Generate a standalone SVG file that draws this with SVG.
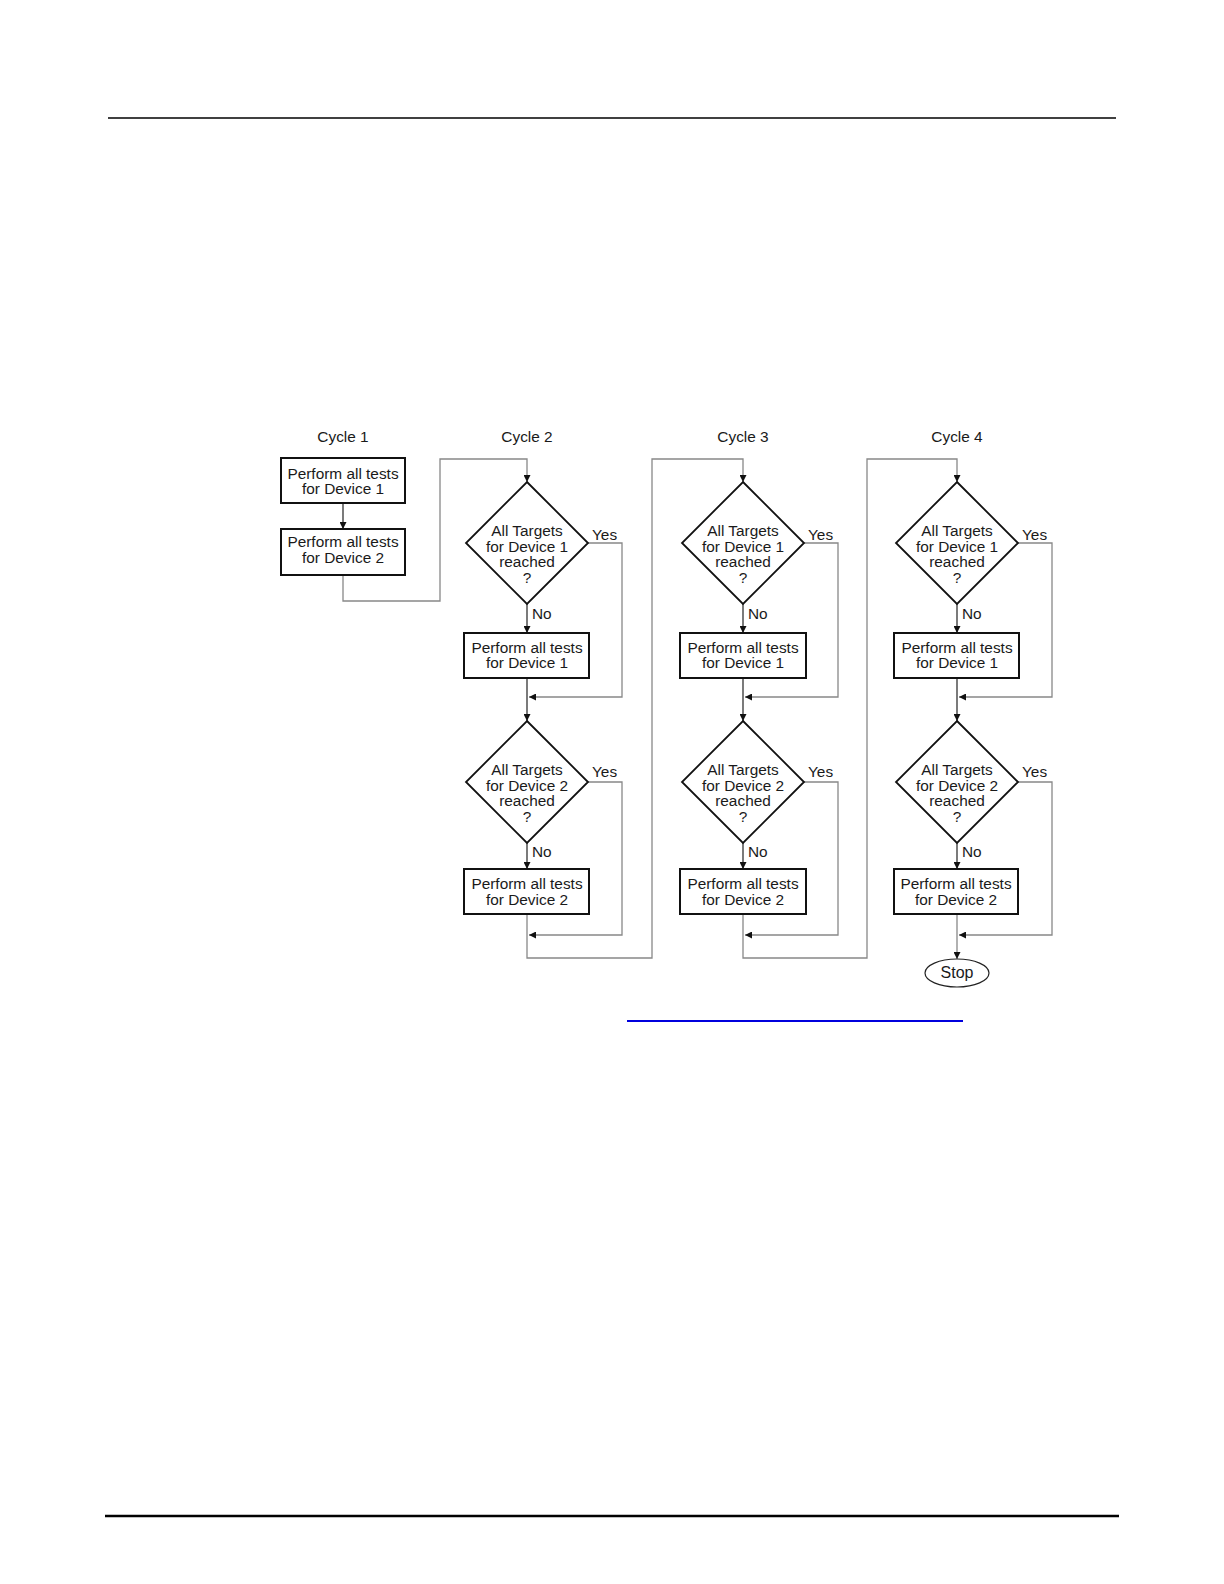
<svg xmlns="http://www.w3.org/2000/svg" width="1224" height="1584" viewBox="0 0 1224 1584">
<style>
text{font-family:"Liberation Sans",Arial,Helvetica,sans-serif;font-size:15.4px;fill:#1a1a1a}
.c{text-anchor:middle}
.box{fill:#fff;stroke:#111;stroke-width:2}
.dia{fill:#fff;stroke:#111;stroke-width:1.8}
.main{fill:none;stroke:#333;stroke-width:1.3}
.loop{fill:none;stroke:#888;stroke-width:1.3}
.ah{fill:#111}
</style>
<defs>
<marker id="arr" viewBox="0 0 10 10" refX="10" refY="5" markerWidth="8" markerHeight="7" markerUnits="userSpaceOnUse" orient="auto">
<path d="M0,0 L10,5 L0,10 z" class="ah"/>
</marker>
</defs>
<rect width="1224" height="1584" fill="#fff"/>
<line x1="108" y1="118" x2="1116" y2="118" stroke="#000" stroke-width="1.5"/>
<line x1="105" y1="1516" x2="1119" y2="1516" stroke="#000" stroke-width="2.5"/>
<line x1="627" y1="1021" x2="963" y2="1021" stroke="#0000dd" stroke-width="2"/>

<g id="labels">
<text class="c" x="343" y="442">Cycle 1</text>
<text class="c" x="527" y="442">Cycle 2</text>
<text class="c" x="743" y="442">Cycle 3</text>
<text class="c" x="957" y="442">Cycle 4</text>
</g>

<g id="connectors">
<!-- cycle 1 -->
<line class="main" x1="343" y1="503" x2="343" y2="529" marker-end="url(#arr)"/>
<polyline class="loop" points="343,575 343,601 440,601 440,459 527,459 527,482" marker-end="url(#arr)"/>
<!-- cycle 2 -->
<line class="main" x1="527" y1="604" x2="527" y2="633" marker-end="url(#arr)"/>
<polyline class="loop" points="588,543 622,543 622,697 529,697" marker-end="url(#arr)"/>
<line class="main" x1="527" y1="678" x2="527" y2="721" marker-end="url(#arr)"/>
<line class="main" x1="527" y1="843" x2="527" y2="869" marker-end="url(#arr)"/>
<polyline class="loop" points="588,782 622,782 622,935 529,935" marker-end="url(#arr)"/>
<polyline class="loop" points="527,914 527,958 652,958 652,459 743,459 743,482" marker-end="url(#arr)"/>
<!-- cycle 3 -->
<line class="main" x1="743" y1="604" x2="743" y2="633" marker-end="url(#arr)"/>
<polyline class="loop" points="804,543 838,543 838,697 745,697" marker-end="url(#arr)"/>
<line class="main" x1="743" y1="678" x2="743" y2="721" marker-end="url(#arr)"/>
<line class="main" x1="743" y1="843" x2="743" y2="869" marker-end="url(#arr)"/>
<polyline class="loop" points="804,782 838,782 838,935 745,935" marker-end="url(#arr)"/>
<polyline class="loop" points="743,914 743,958 867,958 867,459 957,459 957,482" marker-end="url(#arr)"/>
<!-- cycle 4 -->
<line class="main" x1="957" y1="604" x2="957" y2="633" marker-end="url(#arr)"/>
<polyline class="loop" points="1018,543 1052,543 1052,697 959,697" marker-end="url(#arr)"/>
<line class="main" x1="957" y1="678" x2="957" y2="721" marker-end="url(#arr)"/>
<line class="main" x1="957" y1="843" x2="957" y2="869" marker-end="url(#arr)"/>
<polyline class="loop" points="1018,782 1052,782 1052,935 959,935" marker-end="url(#arr)"/>
<line class="loop" x1="957" y1="914" x2="957" y2="959" marker-end="url(#arr)"/>
<!-- edge labels -->
<text x="532" y="619">No</text>
<text x="532" y="857">No</text>
<text x="592" y="540">Yes</text>
<text x="592" y="777">Yes</text>
<text x="748" y="619">No</text>
<text x="748" y="857">No</text>
<text x="808" y="540">Yes</text>
<text x="808" y="777">Yes</text>
<text x="962" y="619">No</text>
<text x="962" y="857">No</text>
<text x="1022" y="540">Yes</text>
<text x="1022" y="777">Yes</text>
</g>

<g id="c1-test1">
<rect class="box" x="281" y="458" width="124" height="45"/>
<text class="c" x="343" y="479">Perform all tests</text>
<text class="c" x="343" y="494">for Device 1</text>
</g>
<g id="c1-test2">
<rect class="box" x="281" y="529" width="124" height="46"/>
<text class="c" x="343" y="547">Perform all tests</text>
<text class="c" x="343" y="563">for Device 2</text>
</g>

<g id="c2-check1">
<polygon class="dia" points="527,482 588,543 527,604 466,543"/>
<text class="c" x="527" y="536">All Targets</text>
<text class="c" x="527" y="552">for Device 1</text>
<text class="c" x="527" y="567">reached</text>
<text class="c" x="527" y="583">?</text>
</g>
<g id="c2-test1">
<rect class="box" x="464" y="633" width="125" height="45"/>
<text class="c" x="527" y="653">Perform all tests</text>
<text class="c" x="527" y="668">for Device 1</text>
</g>
<g id="c2-check2">
<polygon class="dia" points="527,721 588,782 527,843 466,782"/>
<text class="c" x="527" y="775">All Targets</text>
<text class="c" x="527" y="791">for Device 2</text>
<text class="c" x="527" y="806">reached</text>
<text class="c" x="527" y="822">?</text>
</g>
<g id="c2-test2">
<rect class="box" x="464" y="869" width="125" height="45"/>
<text class="c" x="527" y="889">Perform all tests</text>
<text class="c" x="527" y="905">for Device 2</text>
</g>

<g id="c3-check1">
<polygon class="dia" points="743,482 804,543 743,604 682,543"/>
<text class="c" x="743" y="536">All Targets</text>
<text class="c" x="743" y="552">for Device 1</text>
<text class="c" x="743" y="567">reached</text>
<text class="c" x="743" y="583">?</text>
</g>
<g id="c3-test1">
<rect class="box" x="680" y="633" width="126" height="45"/>
<text class="c" x="743" y="653">Perform all tests</text>
<text class="c" x="743" y="668">for Device 1</text>
</g>
<g id="c3-check2">
<polygon class="dia" points="743,721 804,782 743,843 682,782"/>
<text class="c" x="743" y="775">All Targets</text>
<text class="c" x="743" y="791">for Device 2</text>
<text class="c" x="743" y="806">reached</text>
<text class="c" x="743" y="822">?</text>
</g>
<g id="c3-test2">
<rect class="box" x="680" y="869" width="126" height="45"/>
<text class="c" x="743" y="889">Perform all tests</text>
<text class="c" x="743" y="905">for Device 2</text>
</g>

<g id="c4-check1">
<polygon class="dia" points="957,482 1018,543 957,604 896,543"/>
<text class="c" x="957" y="536">All Targets</text>
<text class="c" x="957" y="552">for Device 1</text>
<text class="c" x="957" y="567">reached</text>
<text class="c" x="957" y="583">?</text>
</g>
<g id="c4-test1">
<rect class="box" x="894" y="633" width="125" height="45"/>
<text class="c" x="957" y="653">Perform all tests</text>
<text class="c" x="957" y="668">for Device 1</text>
</g>
<g id="c4-check2">
<polygon class="dia" points="957,721 1018,782 957,843 896,782"/>
<text class="c" x="957" y="775">All Targets</text>
<text class="c" x="957" y="791">for Device 2</text>
<text class="c" x="957" y="806">reached</text>
<text class="c" x="957" y="822">?</text>
</g>
<g id="c4-test2">
<rect class="box" x="894" y="869" width="124" height="45"/>
<text class="c" x="956" y="889">Perform all tests</text>
<text class="c" x="956" y="905">for Device 2</text>
</g>
<g id="stop">
<ellipse cx="957" cy="973" rx="32" ry="14" fill="#fff" stroke="#222" stroke-width="1.2"/>
<text class="c" x="957" y="978" style="font-size:16px">Stop</text>
</g>
</svg>
